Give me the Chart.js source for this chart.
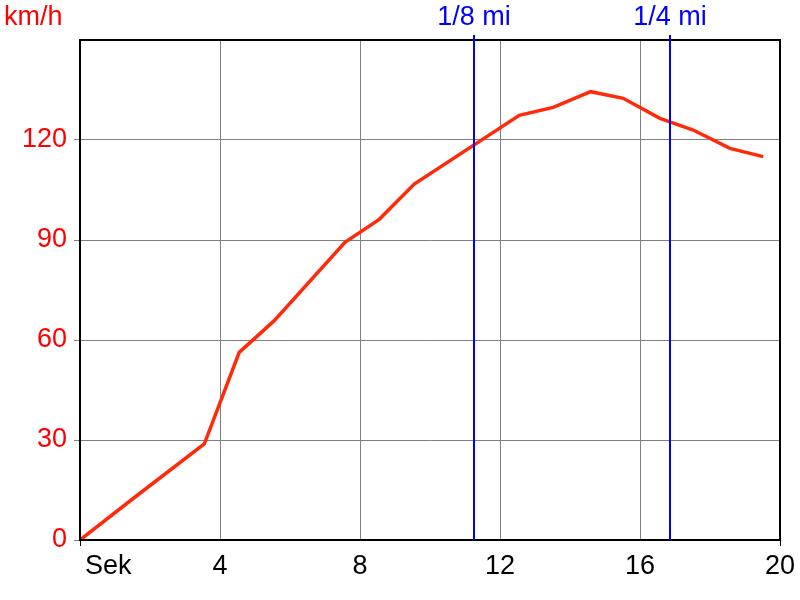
<!DOCTYPE html>
<html>
<head>
<meta charset="utf-8">
<script src="https://cdn.jsdelivr.net/npm/chart.js@4"></script>
<style>
  body { margin: 0; background: #fff; }
  #wrap { width: 800px; height: 600px; }
</style>
</head>
<body>
<div id="wrap"><canvas id="myChart" width="800" height="600"></canvas></div>
<script>
// time in seconds, speed in km/h
var seconds = [0, 1.5, 3.55, 4.55, 5.55, 7.57, 8.55, 9.55, 12.55, 13.52, 14.59, 15.52, 16.57, 17.52, 18.57, 19.52];
var speed   = [0, 12.3, 28.8, 56.3, 65.8, 89.3, 96.2, 106.8, 127.4, 129.8, 134.5, 132.5, 126.5, 123, 117.5, 115];

var xTicks = [0, 4, 8, 12, 16, 20];
var yTicks = [0, 30, 60, 90, 120, 150];

// distance markers
var markerNames = ['1/8 mi', '1/4 mi'];
var markerTimes = [11.26, 16.86];

var FONT = '"Liberation Sans", Arial, sans-serif';

var points = seconds.map(function (s, i) { return { x: s, y: speed[i] }; });

var extras = {
    id: 'extras',
    afterDatasetsDraw: function (chart) {
        var ctx = chart.ctx;
        var a = chart.chartArea;
        var xs = chart.scales.x;
        ctx.save();
        // frame
        ctx.strokeStyle = '#000';
        ctx.lineWidth = 2;
        ctx.strokeRect(a.left, a.top, a.right - a.left, a.bottom - a.top);

        // marker lines
        ctx.strokeStyle = '#0000ff';
        ctx.lineWidth = 2;
        ctx.fillStyle = '#0000ff';
        ctx.font = '27px ' + FONT;
        ctx.textAlign = 'center';
        ctx.textBaseline = 'middle';
        markerTimes.forEach(function (t, i) {
            var px = Math.round(xs.getPixelForValue(t));
            ctx.beginPath();
            ctx.moveTo(px, a.bottom);
            ctx.lineTo(px, a.top - 5);
            ctx.stroke();
            ctx.fillText(markerNames[i], px, 18);
        });

        // axis titles
        ctx.fillStyle = '#ff0000';
        ctx.textAlign = 'left';
        ctx.fillText('km/h', 4, 18);
        ctx.fillStyle = '#000';
        ctx.fillText('Sek', xs.getPixelForValue(0) + 5, 567);
        ctx.restore();
    }
};

var ctx1 = document.getElementById('myChart').getContext('2d');
var chart1 = new Chart(ctx1, {
    type: 'line',
    data: {
        datasets: [{
            label: 'km/h',
            data: points,
            borderColor: '#ff2a0a',
            borderWidth: 3.5,
            pointRadius: 0,
            tension: 0,
            fill: false
        }]
    },
    options: {
        responsive: false,
        animation: false,
        layout: { padding: { top: 40, right: 20, left: 0, bottom: 0 } },
        plugins: {
            legend: { display: false },
            tooltip: { enabled: false }
        },
        scales: {
            x: {
                type: 'linear',
                min: 0,
                max: 20,
                afterBuildTicks: function (axis) {
                    axis.ticks = xTicks.map(function (v) { return { value: v }; });
                },
                afterFit: function (axis) { axis.height = 60; },
                grid: {
                    color: '#808080',
                    lineWidth: 1,
                    drawTicks: true,
                    tickLength: 6,
                    tickColor: function (c) {
                        return (c.tick && (c.tick.value === 0 || c.tick.value === 20)) ? '#000' : 'rgba(0,0,0,0)';
                    }
                },
                border: { color: '#000', width: 2 },
                ticks: {
                    color: '#000',
                    font: { family: FONT, size: 27 },
                    padding: 4,
                    maxRotation: 0,
                    callback: function (v) { return v === 0 ? '' : String(v); }
                }
            },
            y: {
                min: 0,
                max: 150,
                afterBuildTicks: function (axis) {
                    axis.ticks = yTicks.map(function (v) { return { value: v }; });
                },
                afterFit: function (axis) { axis.width = 80; },
                grid: {
                    color: '#808080',
                    lineWidth: 1,
                    drawTicks: true,
                    tickLength: 6,
                    tickColor: function (c) {
                        return (c.tick && c.tick.value === 150) ? 'rgba(0,0,0,0)' : '#808080';
                    }
                },
                border: { color: '#000', width: 2 },
                ticks: {
                    color: '#ff0000',
                    font: { family: FONT, size: 27 },
                    padding: 7,
                    callback: function (v) { return v === 150 ? '' : String(v); }
                }
            }
        }
    },
    plugins: [extras]
});
</script>
</body>
</html>
